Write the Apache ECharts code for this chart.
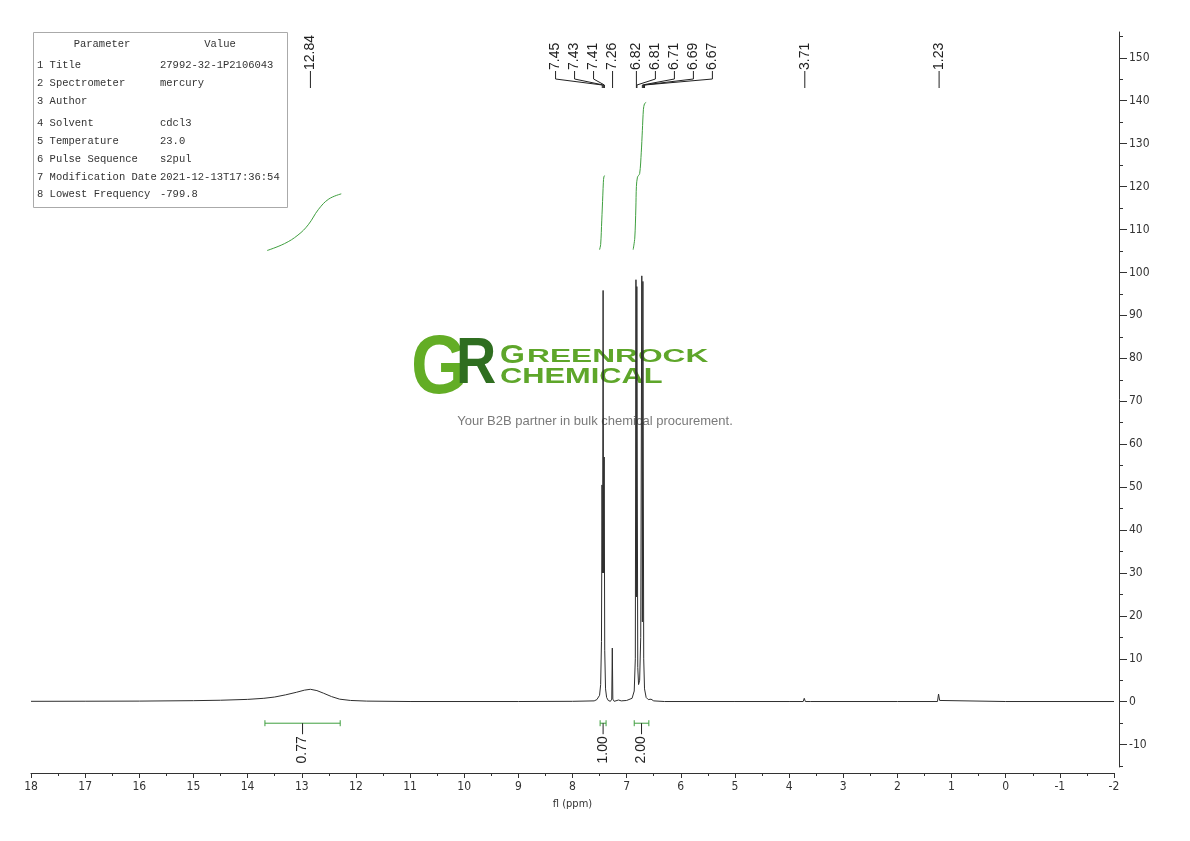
<!DOCTYPE html>
<html><head><meta charset="utf-8">
<script src="https://cdn.jsdelivr.net/npm/echarts@6/dist/echarts.min.js"></script>
<style>html,body{margin:0;padding:0;background:#fff}#c{width:1190px;height:841px}</style>
</head><body><div id="c"></div>
<script>
// ---------- data ----------
const spectrum = [
  [18,0.1],[17,0.12],[16,0.15],[15,0.25],[14.5,0.35],[14,0.55],[13.7,0.8],[13.5,1.1],[13.3,1.6],[13.1,2.2],
  [12.95,2.7],[12.84,2.9],[12.72,2.6],[12.6,2.0],[12.45,1.2],[12.3,0.6],[12.1,0.3],[11.8,0.15],[11,0.05],
  [9,0.05],[8,0.1],[7.6,0.2],[7.55,0.5],[7.52,0.9],[7.5,1.5],[7.48,4],[7.465,14],[7.455,50.5],[7.445,30],
  [7.435,95.8],[7.425,30],[7.415,57],[7.405,12],[7.39,3],[7.37,1.0],[7.34,0.3],[7.3,0.1],[7.275,0.6],
  [7.265,12.5],[7.255,0.6],[7.23,0.1],[7.15,0.4],[7.1,0.2],[7.0,0.3],[6.9,0.8],[6.86,2.5],[6.84,10],
  [6.828,98.3],[6.82,24.4],[6.812,96.7],[6.795,8],[6.78,4],[6.76,5],[6.74,15],[6.72,99.2],[6.71,18.6],
  [6.70,97.9],[6.685,10],[6.67,3],[6.64,1.0],[6.6,0.5],[6.55,0.6],[6.5,0.2],[6.3,0.05],[5,0.05],[4,0.05],
  [3.74,0.05],[3.72,0.8],[3.70,0.05],[3.6,0.05],[2,0.05],[1.26,0.05],[1.24,1.8],[1.22,0.3],[1.2,0.05],
  [0,0.05],[-2,0.05]
];
const integralCurveBroad = [[13.64,105.1],[13.32,106.7],[13.07,108.7],[12.88,111.1],[12.69,114.7],[12.50,117.1],[12.27,118.3]];
const integralCurveA = [[7.50,105.3],[7.48,106.5],[7.46,112],[7.44,118],[7.43,121],[7.42,122.3],[7.40,122.6]];
const integralCurveB = [[6.88,105.3],[6.85,108],[6.83,115],[6.82,120],[6.80,122.2],[6.76,123],[6.73,128],[6.71,133],[6.69,138],[6.67,139.3],[6.64,139.6]];

const integralFrom   = [13.68, 7.49, 6.86];
const integralTo     = [12.29, 7.38, 6.59];
const integralLabels = ['0.77', '1.00', '2.00'];

const peakGroups  = [[12.84],[7.45,7.43,7.41,7.26],[6.82,6.81,6.71,6.69,6.67],[3.71],[1.23]];
const peakAnchors = [0, 3, 0, 0, 0];   // which label in each group sits straight above its peak

const xTickLabels = [18,17,16,15,14,13,12,11,10,9,8,7,6,5,4,3,2,1,0,-1,-2];
const yTickLabels = [-10,0,10,20,30,40,50,60,70,80,90,100,110,120,130,140,150];
const yMinorTicks = [-15,-5,5,15,25,35,45,55,65,75,85,95,105,115,125,135,145,155];

const paramNames  = ['1 Title','2 Spectrometer','3 Author','4 Solvent','5 Temperature','6 Pulse Sequence','7 Modification Date','8 Lowest Frequency'];
const paramValues = ['27992-32-1P2106043','mercury','','cdcl3','23.0','s2pul','2021-12-13T17:36:54','-799.8'];

// ---------- build ----------
const peakData = [];
peakGroups.forEach((g, gi) => {
  g.forEach((p, i) => peakData.push([p, g[peakAnchors[gi]], i - peakAnchors[gi]]));
});
const integralData = integralFrom.map((f, i) => [f, integralTo[i], i]);

const tickFont = "'DejaVu Sans Condensed','Liberation Sans Narrow','Liberation Sans',sans-serif";
const chart = echarts.init(document.getElementById('c'), null, {renderer: 'canvas'});

const tableRowsY = [65, 83, 101, 123, 141, 159, 177, 194];
const tFont = "10.5px 'Liberation Mono',monospace";
const graphic = [
  {type:'rect', shape:{x:33.5,y:32.5,width:254,height:175}, style:{fill:'#fff',stroke:'#aaa',lineWidth:1}, z:10},
  {type:'text', x:102, y:44, style:{text:'Parameter', font:tFont, fill:'#333', align:'center', verticalAlign:'middle'}, z:11},
  {type:'text', x:220, y:44, style:{text:'Value', font:tFont, fill:'#333', align:'center', verticalAlign:'middle'}, z:11}
];
paramNames.forEach((n, i) => {
  graphic.push({type:'text', x:37, y:tableRowsY[i], style:{text:n, font:tFont, fill:'#333', verticalAlign:'middle'}, z:11});
  graphic.push({type:'text', x:160, y:tableRowsY[i], style:{text:paramValues[i], font:tFont, fill:'#333', verticalAlign:'middle'}, z:11});
});
// watermark
graphic.push(
  {type:'text', x:411, y:370, scaleX:0.86, style:{text:'G', font:"bold 84px 'Liberation Sans',sans-serif", fill:'#63ad25', verticalAlign:'middle'}, z:1},
  {type:'text', x:456, y:365, scaleX:0.87, style:{text:'R', font:"bold 64px 'Liberation Sans',sans-serif", fill:'#2f6e20', verticalAlign:'middle'}, z:2},
  {type:'text', x:500, y:356, scaleX:1.28, style:{text:'G', font:"bold 25px 'Liberation Sans',sans-serif", fill:'#5ea62a', verticalAlign:'middle'}, z:1},
  {type:'text', x:527, y:357, scaleX:1.76, style:{text:'REENROCK', font:"bold 18px 'Liberation Sans',sans-serif", fill:'#5ea62a', verticalAlign:'middle'}, z:1},
  {type:'text', x:500, y:377, scaleX:1.4, style:{text:'CHEMICAL', font:"bold 22px 'Liberation Sans',sans-serif", fill:'#5ea62a', verticalAlign:'middle'}, z:1},
  {type:'text', x:595, y:421, style:{text:'Your B2B partner in bulk chemical procurement.', font:"13px 'Liberation Sans',sans-serif", fill:'#7a7a7a', align:'center', verticalAlign:'middle'}, z:1}
);

const option = {
  animation: false,
  backgroundColor: '#fff',
  grid: {left:31, right:76, top:32, bottom:74, containLabel:false},
  xAxis: {
    type:'value', inverse:true, min:-2, max:18, interval:1,
    offset:6,
    name:'fl (ppm)', nameLocation:'middle', nameGap:26,
    nameTextStyle:{fontFamily:tickFont, fontSize:11, color:'#333'},
    axisLine:{show:true, onZero:false, lineStyle:{color:'#333', width:1}},
    axisTick:{show:true, length:5, lineStyle:{color:'#333'}},
    minorTick:{show:true, splitNumber:2, length:3, lineStyle:{color:'#333'}},
    axisLabel:{show:true, margin:8, fontFamily:tickFont, fontSize:12, color:'#333', formatter: v => String(v)},
    splitLine:{show:false}
  },
  yAxis: [{
    type:'value', position:'right', offset:5, min:-15.2, max:156,
    axisLine:{show:true, onZero:false, lineStyle:{color:'#333', width:1}},
    axisTick:{show:true, length:8, customValues:yTickLabels, lineStyle:{color:'#333'}},
    axisLabel:{show:true, margin:10, customValues:yTickLabels, fontFamily:tickFont, fontSize:12, color:'#333'},
    splitLine:{show:false}
  },{
    type:'value', position:'right', offset:5, min:-15.2, max:156,
    axisLine:{show:false, onZero:false},
    axisTick:{show:true, length:4, customValues:yMinorTicks, lineStyle:{color:'#333'}},
    axisLabel:{show:false},
    splitLine:{show:false}
  }],
  graphic: graphic,
  series: [
    {type:'line', data:spectrum, showSymbol:false, symbol:'none', sampling:'none', z:5,
     lineStyle:{color:'#2e2e2e', width:1}},
    {type:'line', data:integralCurveBroad, smooth:0.4, symbol:'none', z:4, lineStyle:{color:'#3f9f3f', width:1}},
    {type:'line', data:integralCurveA, smooth:0.3, symbol:'none', z:4, lineStyle:{color:'#3f9f3f', width:1}},
    {type:'line', data:integralCurveB, smooth:0.3, symbol:'none', z:4, lineStyle:{color:'#3f9f3f', width:1}},
    {type:'custom', data:peakData, clip:false, z:6,
     renderItem: function(params, api) {
       const top = params.coordSys.y;
       const px = api.coord([api.value(0), 0])[0];
       const ax = api.coord([api.value(1), 0])[0];
       const lx = ax + api.value(2) * 19;
       const yBot = top + 56, yMid2 = top + 53, yMid1 = top + 47, yTxt = top + 38;
       return {type:'group', children:[
         {type:'polyline', shape:{points:[[lx, top+39],[lx, yMid1],[px, yMid2],[px, yBot]]},
          style:{stroke:'#222', lineWidth:1, fill:null}},
         {type:'text', x:lx, y:yTxt, rotation:Math.PI/2,
          style:{text:api.value(0).toFixed(2), x:0, y:0, align:'left', verticalAlign:'middle',
                 font:"14px 'Liberation Sans',sans-serif", fill:'#222'}}
       ]};
     }},
    {type:'custom', data:integralData, clip:false, z:6,
     renderItem: function(params, api) {
       const p1 = api.coord([api.value(0), -5]);
       const p2 = api.coord([api.value(1), -5]);
       const y = p1[1];
       const cx = (p1[0] + p2[0]) / 2;
       const g = '#3f9f3f';
       return {type:'group', children:[
         {type:'line', shape:{x1:p1[0], y1:y, x2:p2[0], y2:y}, style:{stroke:g, lineWidth:1}},
         {type:'line', shape:{x1:p1[0], y1:y-3, x2:p1[0], y2:y+3}, style:{stroke:g, lineWidth:1}},
         {type:'line', shape:{x1:p2[0], y1:y-3, x2:p2[0], y2:y+3}, style:{stroke:g, lineWidth:1}},
         {type:'line', shape:{x1:cx, y1:y, x2:cx, y2:y+11}, style:{stroke:'#222', lineWidth:1}},
         {type:'text', x:cx, y:y+13, rotation:Math.PI/2,
          style:{text:integralLabels[api.value(2)], x:0, y:0, align:'right', verticalAlign:'middle',
                 font:"14px 'Liberation Sans',sans-serif", fill:'#222'}}
       ]};
     }}
  ]
};
chart.setOption(option);
</script></body></html>
